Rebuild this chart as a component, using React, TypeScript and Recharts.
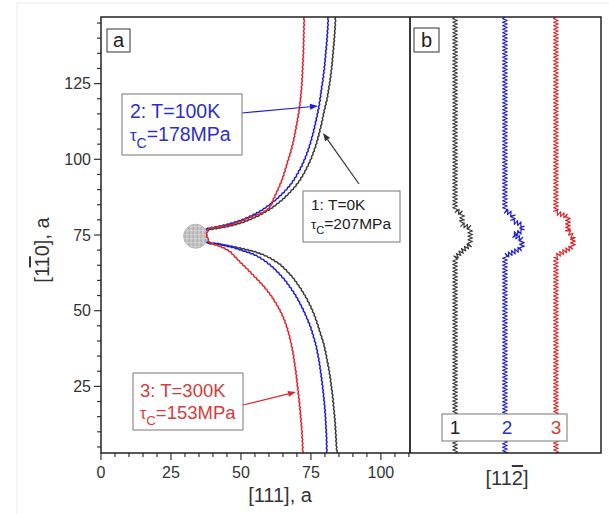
import React from 'react';
import { ComposedChart, Scatter, XAxis, YAxis } from 'recharts';

const FONT = '"Liberation Sans", Arial, Helvetica, sans-serif';
const INK = '#333';

// one entry per simulation run: 1 = 0K, 2 = 100K, 3 = 300K
const lineIds = ['1', '2', '3'];
const temps = [0, 100, 300];
const critStress = [207, 178, 153];
const lineColors = ['#3c3c3c', '#1e1ed8', '#e2252b'];
const textColors = ['#222222', '#2f2fc4', '#d63a3a'];

// axis ticks (minor every 5a, labels every 25a)
const xTicks = [0, 5, 10, 15, 20, 25, 30, 35, 40, 45, 50, 55, 60, 65, 70, 75, 80, 85, 90, 95, 100, 105, 110];
const xLabelled = [0, 25, 50, 75, 100];
const yTicks = [5, 10, 15, 20, 25, 30, 35, 40, 45, 50, 55, 60, 65, 70, 75, 80, 85, 90, 95, 100, 105, 110, 115, 120, 125, 130, 135, 140, 145];
const yLabelled = [25, 50, 75, 100, 125];

// panel a: dislocation line bowing around the obstacle, [x along 111, y along 1-10]
const curveT0: [number, number][] = [
  [83.8, 147], [83.6, 143], [83.3, 139], [82.9, 135], [82.5, 131], [82.0, 127], [81.5, 124], [80.8, 120],
  [80.0, 117], [79.3, 114], [78.6, 111], [77.8, 108], [76.9, 105], [76.0, 102.5], [75.2, 100.5], [74.0, 98],
  [72.6, 95.5], [71.0, 93], [69.2, 90.8], [67.2, 88.8], [65.0, 86.8], [62.6, 85], [60.0, 83.3], [57.2, 81.8],
  [54.2, 80.5], [51.0, 79.3], [47.5, 78.3], [44.0, 77.6], [40.8, 77.1], [38.0, 76.7], [34.0, 74.6],
  [38.5, 72.2], [41.5, 72.0], [44.5, 71.6], [47.5, 71.1], [51.0, 70.4], [54.5, 69.6], [58.0, 68.5],
  [61.0, 67.1], [64.0, 65.3], [66.3, 63.2], [68.5, 61], [70.4, 58.6], [72.1, 56.2], [73.6, 53.8],
  [75.0, 51.2], [76.3, 48.4], [77.4, 45.4], [78.5, 42.2], [79.6, 39], [80.4, 35.6], [81.1, 32.2],
  [81.8, 28.6], [82.3, 25], [82.8, 21.5], [83.2, 17.5], [83.6, 13.5], [83.9, 9], [84.1, 5.5], [84.3, 3],
];

const curveT100: [number, number][] = [
  [81.2, 147], [81.0, 143], [80.7, 139], [80.3, 135], [79.9, 131], [79.4, 127], [78.9, 124], [78.3, 120],
  [77.8, 117], [77.1, 114], [76.4, 111], [75.6, 108], [74.7, 105], [73.8, 102.5], [73.0, 100.5], [71.8, 98],
  [70.4, 95.5], [68.8, 93], [67.0, 90.8], [65.0, 88.8], [62.8, 86.9], [60.4, 85.1], [57.8, 83.4], [55.0, 81.9],
  [52.0, 80.6], [48.9, 79.5], [45.6, 78.6], [42.4, 77.9], [39.6, 77.4], [37.6, 77.1], [34.0, 74.6],
  [38.3, 72.4], [41.5, 72.2], [44.5, 71.5], [47.5, 70.8], [50.5, 69.9], [53.5, 69], [56.3, 67.8],
  [58.8, 66.3], [61.2, 64.5], [63.6, 62.3], [65.8, 60], [67.7, 57.6], [69.5, 55.1], [71.0, 52.6],
  [72.4, 50], [73.7, 47.3], [74.9, 44.5], [75.9, 41.6], [76.8, 38.6], [77.5, 35.5], [78.1, 32.3],
  [78.6, 29], [79.1, 25.6], [79.5, 22.2], [79.9, 18.6], [80.2, 15], [80.4, 11.4], [80.6, 7.6], [80.7, 3],
];

const curveT300: [number, number][] = [
  [72.6, 147], [72.5, 143], [72.4, 139], [72.3, 135], [72.1, 131], [71.9, 127], [71.7, 124], [71.3, 120],
  [70.9, 117], [70.4, 114], [69.8, 111], [69.2, 108], [68.5, 105], [67.8, 102.5], [67.1, 100.5], [66.3, 98],
  [65.5, 95.5], [64.6, 93], [63.6, 90.8], [62.6, 88.8], [61.6, 86.8], [60.8, 85], [59.8, 83.6], [57.8, 82.4],
  [55.2, 81.5], [52.5, 80.5], [49.5, 79.4], [46.5, 78.4], [43.5, 77.8], [40.8, 77.5], [38.6, 77.3],
  [37.6, 75.2], [38.8, 72.3], [41.2, 71.7], [43.7, 70.8], [46.0, 69.6], [48.1, 67.6], [50.1, 65.7],
  [52.2, 63.8], [54.2, 61.9], [56.2, 60], [58.0, 58.2], [59.6, 56.4], [61.1, 54.5], [62.4, 52.6],
  [63.6, 50.7], [64.7, 48.7], [65.7, 46.5], [66.6, 44], [67.4, 41.3], [68.1, 38.5], [68.7, 35.6],
  [69.2, 32.5], [69.7, 29.3], [70.1, 26], [70.5, 22.8], [70.9, 19.6], [71.2, 16.5], [71.5, 13.4],
  [71.8, 10], [72.0, 6.5], [72.1, 3],
];

const obstacle: [number, number][] = [[33.8, 74.6]];

// panel b: core position along [11-2] (arbitrary units) vs [1-10]
const profileT0: [number, number][] = [
  [23.6, 147], [23.6, 83.4], [27.3, 82], [27.3, 80.2], [26.8, 78.6], [31.5, 77.3], [31.5, 71.8],
  [27.8, 70], [23.6, 67.4], [23.6, 3],
];
const profileT100: [number, number][] = [
  [49.7, 147], [49.7, 83], [53.9, 81.7], [53.9, 79.5], [58.6, 78.4], [58.6, 76.2], [53.9, 75.1],
  [58.6, 73.5], [58.6, 70.7], [49.7, 68], [49.7, 3],
];
const profileT300: [number, number][] = [
  [76.4, 147], [76.4, 82.5], [82.7, 81], [82.7, 76.2], [85.3, 74.5], [85.3, 71.2], [76.4, 68], [76.4, 3],
];

const curves = [curveT0, curveT100, curveT300];
const profiles = [profileT0, profileT100, profileT300];

const toPts = (arr: [number, number][]) => arr.map(([x, y]) => ({ x, y }));

// polyline with a saw-tooth texture laid along it (pixel space)
function zigzagD(points: { x: number; y: number }[], half: number, amp: number) {
  const pts = points.filter((p) => p.x != null && p.y != null);
  if (pts.length < 2) return '';
  const out: string[] = [`M${pts[0].x},${pts[0].y}`];
  let sign = 1;
  let since = 0;
  for (let i = 1; i < pts.length; i++) {
    const a = pts[i - 1];
    const b = pts[i];
    const dx = b.x - a.x;
    const dy = b.y - a.y;
    const len = Math.hypot(dx, dy);
    if (!len) continue;
    const nx = -dy / len;
    const ny = dx / len;
    let t = half - since;
    while (t <= len) {
      const px = a.x + (dx * t) / len + nx * amp * sign;
      const py = a.y + (dy * t) / len + ny * amp * sign;
      out.push(`L${px.toFixed(2)},${py.toFixed(2)}`);
      sign = -sign;
      t += half;
    }
    since = len - (t - half);
  }
  const last = pts[pts.length - 1];
  out.push(`L${last.x},${last.y}`);
  return out.join('');
}

const zigzagLine = (color: string, half: number, amp: number, width: number) => (p: any) => (
  <path d={zigzagD(p.points || [], half, amp)} fill="none" stroke={color} strokeWidth={width} strokeLinejoin="round" />
);

const NoDot = () => <g />;

const Grain = (p: any) => (
  <g>
    <defs>
      <pattern id="grain" width="4" height="4" patternUnits="userSpaceOnUse">
        <rect width="4" height="4" fill="#c6c6c6" />
        <circle cx="1" cy="1" r="0.8" fill="#a0a0a0" />
        <circle cx="3" cy="2.6" r="0.7" fill="#e4e4e4" />
        <circle cx="1.5" cy="3.4" r="0.5" fill="#ababab" />
      </pattern>
    </defs>
    <circle cx={p.cx} cy={p.cy} r={12} fill="url(#grain)" stroke="#b8b8b8" strokeWidth={1} />
  </g>
);

const XTick = (props: any) => {
  const { x, y, payload } = props;
  const major = xLabelled.includes(payload.value);
  return (
    <g>
      <line x1={x} x2={x} y1={y} y2={y + (major ? 7 : 4)} stroke={INK} strokeWidth={1.2} />
      {major && (
        <text x={x} y={y + 25} textAnchor="middle" fontSize={16} fill={INK} fontFamily={FONT}>
          {payload.value}
        </text>
      )}
    </g>
  );
};

const YTick = (props: any) => {
  const { x, y, payload } = props;
  const major = yLabelled.includes(payload.value);
  return (
    <g>
      <line x1={x - (major ? 7 : 4)} x2={x} y1={y} y2={y} stroke={INK} strokeWidth={1.2} />
      {major && (
        <text x={x - 10} y={y + 5.6} textAnchor="end" fontSize={16} fill={INK} fontFamily={FONT}>
          {payload.value}
        </text>
      )}
    </g>
  );
};

const Arrow = ({ x1, y1, x2, y2, color }: { x1: number; y1: number; x2: number; y2: number; color: string }) => {
  const ang = Math.atan2(y2 - y1, x2 - x1);
  const L = 8;
  const w = 3;
  const bx = x2 - L * Math.cos(ang);
  const by = y2 - L * Math.sin(ang);
  const p1 = `${bx + w * Math.sin(ang)},${by - w * Math.cos(ang)}`;
  const p2 = `${bx - w * Math.sin(ang)},${by + w * Math.cos(ang)}`;
  return (
    <g>
      <line x1={x1} y1={y1} x2={bx} y2={by} stroke={color} strokeWidth={1.2} />
      <polygon points={`${x2},${y2} ${p1} ${p2}`} fill={color} />
    </g>
  );
};

const RunLabel = ({ i, x, y, size, box }: { i: number; x: number; y: number; size: number; box: number[] }) => {
  const c = textColors[i];
  const gap = size * 1.2;
  return (
    <g fontFamily={FONT}>
      <rect x={box[0]} y={box[1]} width={box[2]} height={box[3]} fill="#fff" stroke="#777" strokeWidth={1} />
      <text x={x} y={y} fontSize={size} fill={c}>
        {`${lineIds[i]}: T=${temps[i]}K`}
      </text>
      <text x={x} y={y + gap} fontSize={size} fill={c}>
        <tspan fontSize={size * 0.85}>τ</tspan>
        <tspan fontSize={size * 0.72} dy={size * 0.32}>C</tspan>
        <tspan dy={-size * 0.32}>{`=${critStress[i]}MPa`}</tspan>
      </text>
    </g>
  );
};

export default function App() {
  return (
    <div style={{ position: 'absolute', left: 0, top: 0, width: 609, height: 514, background: '#fff', overflow: 'hidden' }}>
      {/* panel a */}
      <div style={{ position: 'absolute', left: 0, top: 0 }}>
        <ComposedChart width={609} height={514} margin={{ top: 17, right: 199, bottom: 31, left: 41 }}>
          <XAxis
            type="number"
            dataKey="x"
            domain={[0, 110.4]}
            ticks={xTicks}
            interval={0}
            height={30}
            tickSize={0}
            tickMargin={0}
            tickLine={false}
            axisLine={false}
            allowDataOverflow
            tick={(p: any) => <XTick {...p} />}
          />
          <YAxis
            type="number"
            dataKey="y"
            domain={[3, 147]}
            ticks={yTicks}
            interval={0}
            width={60}
            tickSize={0}
            tickMargin={0}
            tickLine={false}
            axisLine={false}
            allowDataOverflow
            tick={(p: any) => <YTick {...p} />}
          />
          <Scatter data={toPts(curves[0])} shape={NoDot} line={zigzagLine(lineColors[0], 2, 0.45, 1.5)} isAnimationActive={false} />
          <Scatter data={toPts(curves[1])} shape={NoDot} line={zigzagLine(lineColors[1], 2, 0.45, 1.5)} isAnimationActive={false} />
          <Scatter data={toPts(obstacle)} shape={Grain} isAnimationActive={false} />
          <Scatter data={toPts(curves[2])} shape={NoDot} line={zigzagLine(lineColors[2], 2, 0.45, 1.5)} isAnimationActive={false} />
        </ComposedChart>
      </div>

      {/* panel b */}
      <div style={{ position: 'absolute', left: 0, top: 0 }}>
        <ComposedChart width={609} height={514} margin={{ top: 17, right: 8, bottom: 61, left: 410 }}>
          <XAxis type="number" dataKey="x" domain={[0, 100]} hide />
          <YAxis type="number" dataKey="y" domain={[3, 147]} hide allowDataOverflow />
          {profiles.map((pr, i) => (
            <Scatter
              key={i}
              data={toPts(pr)}
              shape={NoDot}
              line={zigzagLine(lineColors[i], 1.75, 2.3, 1.2)}
              isAnimationActive={false}
            />
          ))}
        </ComposedChart>
      </div>

      {/* frames, titles and annotations */}
      <svg width={609} height={514} style={{ position: 'absolute', left: 0, top: 0, pointerEvents: 'none' }} fontFamily={FONT}>
        <line x1={17} y1={3} x2={609} y2={3} stroke="#e8e8e8" />
        <line x1={17} y1={3} x2={17} y2={514} stroke="#e8e8e8" />

        <rect x={101} y={17} width={500} height={436} fill="none" stroke="#222" strokeWidth={1.5} />
        <line x1={410} y1={17} x2={410} y2={453} stroke="#222" strokeWidth={1.8} />

        <rect x={107} y={29} width={23} height={23} fill="#fff" stroke="#333" strokeWidth={1} />
        <text x={118.5} y={47} textAnchor="middle" fontSize={20} fill="#222">a</text>
        <rect x={414} y={28} width={25} height={24} fill="#fff" stroke="#333" strokeWidth={1} />
        <text x={426.5} y={47} textAnchor="middle" fontSize={20} fill="#222">b</text>

        <text x={280} y={502} textAnchor="middle" fontSize={20} fill={INK}>[111], a</text>
        <text x={42} y={250} transform="rotate(-90 42 250)" textAnchor="middle" dominantBaseline="central" fontSize={20} fill={INK}>
          [1<tspan style={{ textDecoration: 'overline' }}>1</tspan>0], a
        </text>
        <text x={507} y={485} textAnchor="middle" fontSize={20} fill={INK}>
          [11<tspan style={{ textDecoration: 'overline' }}>2</tspan>]
        </text>

        <Arrow x1={242} y1={113} x2={318} y2={106} color={lineColors[1]} />
        <RunLabel i={1} x={130} y={118} size={19.5} box={[122, 94, 120, 61]} />

        <Arrow x1={359} y1={184} x2={323} y2={133} color="#333" />
        <RunLabel i={0} x={311} y={210} size={15.5} box={[303, 191, 97, 51]} />

        <Arrow x1={243} y1={405} x2={296} y2={392} color={lineColors[2]} />
        <RunLabel i={2} x={140} y={396.5} size={18.5} box={[133, 373, 110, 57]} />

        <rect x={442} y={414} width={125} height={27} fill="#fff" stroke="#777" strokeWidth={1} />
        {[455, 507, 556].map((cx, i) => (
          <text key={i} x={cx} y={434} textAnchor="middle" fontSize={19} fill={textColors[i]}>
            {lineIds[i]}
          </text>
        ))}
      </svg>
    </div>
  );
}
